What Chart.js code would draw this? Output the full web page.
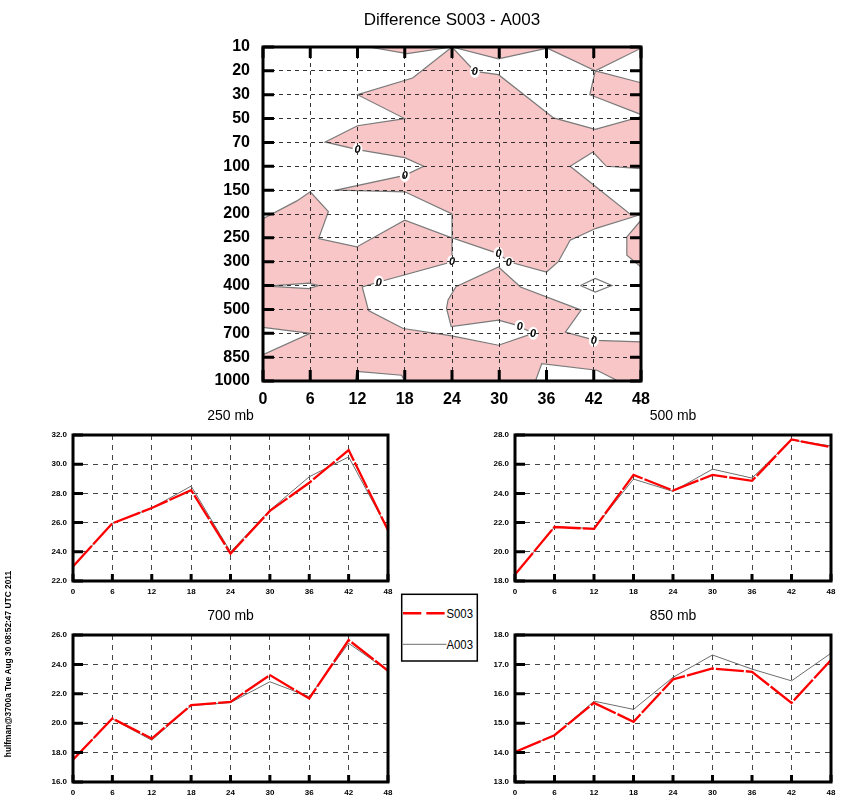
<!DOCTYPE html>
<html>
<head>
<meta charset="utf-8">
<title>Difference S003 - A003</title>
<script src="https://cdn.jsdelivr.net/npm/chart.js@4.4.1/dist/chart.umd.min.js"></script>
<style>
  html, body { margin: 0; padding: 0; background: #fff; }
  body { position: relative; width: 843px; height: 810px; overflow: hidden; font-family: 'Liberation Sans', Arial, sans-serif; }
  canvas { position: absolute; }
  #legend { position: absolute; left: 400px; top: 593px; }
  #stamp {
    position: absolute; left: 8px; top: 664px;
    transform: translate(-50%, -50%) rotate(-90deg);
    white-space: nowrap; font-size: 8.4px; font-weight: bold; color: #000;
  }
</style>
</head>
<body>
<canvas id="diff"></canvas>
<canvas id="mb250"></canvas>
<canvas id="mb500"></canvas>
<canvas id="mb700"></canvas>
<canvas id="mb850"></canvas>
<svg id="legend" width="80" height="70">
  <rect x="1.7" y="1.3" width="75.6" height="66.7" fill="#fff" stroke="#000" stroke-width="1.5"/>
  <line x1="3" y1="20.3" x2="46.5" y2="20.3" stroke="#ff0000" stroke-width="2.6" stroke-dasharray="18.3 5"/>
  <text x="46.5" y="24.5" font-family="Liberation Sans, Arial, sans-serif" font-size="12.5" textLength="26.5" lengthAdjust="spacingAndGlyphs">S003</text>
  <line x1="3" y1="51.3" x2="46.5" y2="51.3" stroke="#6e6e6e" stroke-width="1"/>
  <text x="46.5" y="55.5" font-family="Liberation Sans, Arial, sans-serif" font-size="12.5" textLength="26.5" lengthAdjust="spacingAndGlyphs">A003</text>
</svg>
<div id="stamp">hulfman@3700a Tue Aug 30 08:52:47 UTC 2011</div>
<script>
const hours = [0, 6, 12, 18, 24, 30, 36, 42, 48];
const levels = ['10', '20', '30', '50', '70', '100', '150', '200', '250', '300', '400', '500', '700', '850', '1000'];

// time series per level
const s003At250 = [23.0, 25.95, 27.0, 28.22, 23.88, 26.8, 28.73, 30.97, 25.48];
const a003At250 = [23.0, 25.95, 27.0, 28.5, 24.0, 26.85, 29.14, 30.5, 25.5];
const s003At500 = [18.45, 21.7, 21.57, 25.27, 24.2, 25.27, 24.86, 27.7, 27.16];
const a003At500 = [18.45, 21.7, 21.6, 24.98, 24.14, 25.66, 25.05, 27.66, 27.25];
const s003At700 = [17.52, 20.32, 18.95, 21.23, 21.45, 23.27, 21.68, 25.66, 23.57];
const a003At700 = [17.55, 20.3, 18.84, 21.2, 21.4, 22.82, 21.8, 25.43, 23.57];
const s003At850 = [14.02, 14.59, 15.69, 15.05, 16.49, 16.86, 16.75, 15.69, 17.15];
const a003At850 = [14.02, 14.59, 15.75, 15.47, 16.56, 17.32, 16.84, 16.44, 17.38];

// negative areas of S003 - A003, vertices as [hour, level index]
const regionTopWest = [[13.4, 0], [18.3, 0.28], [24, 0]];
const regionTopEast = [[24, 0], [29.9, 0.5], [36.1, 0.05], [42.2, 1.0], [48, 0.05], [48, 0]];
const regionEast = [[42.2, 1.0], [48, 1.5], [48, 2.83], [41.5, 2.0]];
const regionUpper = [
  [24, 0], [26.9, 1.02], [29.9, 1.16], [36.9, 2.97], [42.2, 3.45], [48, 2.92], [48, 5.1],
  [43.6, 5.0], [41.9, 4.4], [39, 5.0], [46.6, 7.0], [48, 7.02], [42.3, 7.6], [39, 8.1],
  [37.5, 9.0], [36, 9.43], [31.2, 9.0], [29.9, 8.66], [24, 8.0], [24, 7.0], [18, 6.07],
  [9.3, 6.0], [18, 5.38], [20.4, 5.0], [18, 4.64], [12, 4.3], [7.9, 3.98], [12, 3.3],
  [18, 3.0], [12, 2.0], [19, 1.3],
];
const regionEdge = [[48, 7.26], [46.2, 7.96], [46.2, 8.73], [48, 9.22]];
const regionLower = [
  [0, 7.2], [4.3, 6.45], [6, 6.07], [8.3, 6.9], [7.06, 8.03], [11.9, 8.38], [18, 7.26],
  [24, 8.0], [24, 9.0], [14.7, 9.85], [12.6, 10.06], [13.4, 11.05], [17.8, 11.8],
  [23.8, 12.1], [29.9, 12.5], [34.3, 12.0], [32.2, 11.66], [29.9, 11.45], [23.9, 11.72],
  [23.3, 10.95], [23.5, 10.6], [24.5, 10.05], [29.9, 9.22], [32.7, 10.06], [40.4, 11.03],
  [38.4, 11.95], [42.2, 12.3], [48, 12.36], [48, 14], [45.1, 14], [42.4, 13.55],
  [35.4, 13.27], [34.6, 14], [18, 14], [17.6, 13.76], [11.9, 13.6], [11.7, 14], [0, 14],
  [0, 12.9], [6, 12.0], [0, 11.75],
];
const holeWest = [[0.6, 10.02], [5.8, 9.9], [7.06, 10.0], [5.8, 10.13]];
const holeDiamond = [[40.3, 10.0], [42.2, 9.7], [44.3, 10.0], [42.2, 10.27]];
const zeroLabels = [
  [26.9, 1.02], [12, 4.3], [18, 5.38], [24, 9.0], [14.7, 9.85], [29.9, 8.66],
  [31.2, 9.05], [32.6, 11.7], [34.3, 12.0], [42.0, 12.3],
];

const family = "'Liberation Sans', Arial, Helvetica, sans-serif";
Chart.defaults.font.family = family;
Chart.defaults.color = '#000';

const titlePlugin = {
  id: 'panelTitle',
  afterDraw(chart, args, opts) {
    const { ctx, chartArea: a } = chart;
    ctx.save();
    ctx.font = opts.font;
    ctx.fillStyle = '#000';
    ctx.textAlign = 'center';
    ctx.textBaseline = 'middle';
    ctx.fillText(opts.text, (a.left + a.right) / 2, a.top - opts.offset);
    ctx.restore();
  },
};

// thick box round the plot with inward tick marks
const framePlugin = {
  id: 'frame',
  afterDraw(chart, args, opts) {
    const { ctx, chartArea: a, scales: { x, y } } = chart;
    ctx.save();
    ctx.strokeStyle = '#000';
    ctx.lineWidth = opts.tickWidth;
    ctx.beginPath();
    x.ticks.forEach((t) => {
      const px = x.getPixelForValue(t.value);
      if (opts.bottom) { ctx.moveTo(px, a.bottom); ctx.lineTo(px, a.bottom - opts.bottom); }
      if (opts.top) { ctx.moveTo(px, a.top); ctx.lineTo(px, a.top + opts.top); }
    });
    y.ticks.forEach((t) => {
      const py = y.getPixelForValue(t.value);
      if (opts.left) { ctx.moveTo(a.left, py); ctx.lineTo(a.left + opts.left, py); }
      if (opts.right) { ctx.moveTo(a.right, py); ctx.lineTo(a.right - opts.right, py); }
    });
    ctx.stroke();
    ctx.lineWidth = opts.width;
    ctx.strokeRect(a.left, a.top, a.right - a.left, a.bottom - a.top);
    ctx.restore();
  },
};

// "0" contour labels
const zeroPlugin = {
  id: 'zeros',
  afterDatasetsDraw(chart) {
    const { ctx, scales: { x, y } } = chart;
    ctx.save();
    ctx.font = 'italic bold 11px ' + family;
    ctx.textAlign = 'center';
    ctx.textBaseline = 'middle';
    zeroLabels.forEach(([h, lev]) => {
      const px = x.getPixelForValue(h);
      const py = y.getPixelForValue(lev);
      ctx.fillStyle = '#fff';
      ctx.beginPath();
      ctx.ellipse(px, py, 5, 6.5, 0, 0, Math.PI * 2);
      ctx.fill();
      ctx.fillStyle = '#000';
      ctx.fillText('0', px, py + 0.5);
    });
    ctx.restore();
  },
};

function place(canvas, box, area) {
  canvas.width = box.w;
  canvas.height = box.h;
  canvas.style.left = box.x + 'px';
  canvas.style.top = box.y + 'px';
  return {
    padding: { top: area.top - box.y, right: box.x + box.w - area.right, left: 0, bottom: 0 },
    yWidth: area.left - box.x,
    xHeight: box.y + box.h - area.bottom,
  };
}

function regionDataset(points, color, order) {
  return {
    data: points.concat([points[0]]).map(([x, y]) => ({ x, y })),
    showLine: true,
    fill: 'shape',
    backgroundColor: color,
    borderColor: '#7a7a7a',
    borderWidth: 1.2,
    pointRadius: 0,
    pointHoverRadius: 0,
    tension: 0,
    order: order,
  };
}

function initDiff() {
  const canvas = document.getElementById('diff');
  const fit = place(canvas, { x: 190, y: 0, w: 480, h: 412 }, { left: 263, top: 47, right: 641, bottom: 381 });
  const pink = 'rgb(248, 198, 198)';
  const tickFont = { size: 16, weight: 'bold' };
  new Chart(canvas, {
    type: 'scatter',
    data: {
      datasets: [
        regionDataset(holeWest, '#ffffff', 1),
        regionDataset(holeDiamond, '#ffffff', 1),
        regionDataset(regionTopWest, pink, 2),
        regionDataset(regionTopEast, pink, 2),
        regionDataset(regionEast, pink, 2),
        regionDataset(regionUpper, pink, 2),
        regionDataset(regionEdge, pink, 2),
        regionDataset(regionLower, pink, 2),
      ],
    },
    options: {
      responsive: false,
      animation: false,
      events: [],
      layout: { padding: fit.padding },
      plugins: {
        legend: { display: false },
        tooltip: { enabled: false },
        panelTitle: { text: 'Difference S003 - A003', font: '17px ' + family, offset: 27 },
        frame: { width: 3, tickWidth: 3, left: 11, right: 11, top: 11, bottom: 11 },
      },
      scales: {
        x: {
          type: 'linear', min: 0, max: 48,
          afterFit: (s) => { s.height = fit.xHeight; s.paddingLeft = 0; s.paddingRight = 0; },
          ticks: { stepSize: 6, autoSkip: false, maxRotation: 0, padding: 9, font: tickFont },
          grid: { drawTicks: false, color: '#333', lineWidth: 1, z: 1 },
          border: { display: false, dash: [4, 4] },
        },
        y: {
          type: 'linear', min: 0, max: 14, reverse: true,
          afterFit: (s) => { s.width = fit.yWidth; s.paddingTop = 0; s.paddingBottom = 0; },
          ticks: { stepSize: 1, autoSkip: false, padding: 13, font: tickFont, callback: (v) => levels[v] },
          grid: { drawTicks: false, color: '#333', lineWidth: 1, z: 1 },
          border: { display: false, dash: [4, 4] },
        },
      },
    },
    plugins: [zeroPlugin, titlePlugin, framePlugin],
  });
}

function initPanel(id, title, sValues, aValues, yMin, yMax, yStep, box, area) {
  const canvas = document.getElementById(id);
  const fit = place(canvas, box, area);
  const tickFont = { size: 8, weight: 'bold' };
  new Chart(canvas, {
    type: 'line',
    data: {
      datasets: [
        {
          label: 'S003',
          data: hours.map((h, i) => ({ x: h, y: sValues[i] })),
          borderColor: '#ff0000',
          borderWidth: 2.3,
          borderDash: [28, 2],
          pointRadius: 0,
          tension: 0,
          order: 0,
        },
        {
          label: 'A003',
          data: hours.map((h, i) => ({ x: h, y: aValues[i] })),
          borderColor: '#6e6e6e',
          borderWidth: 1,
          pointRadius: 0,
          tension: 0,
          order: 1,
        },
      ],
    },
    options: {
      responsive: false,
      animation: false,
      events: [],
      layout: { padding: fit.padding },
      plugins: {
        legend: { display: false },
        tooltip: { enabled: false },
        panelTitle: { text: title, font: '14px ' + family, offset: 19 },
        frame: { width: 3, tickWidth: 3, left: 10, bottom: 7, top: 0, right: 0 },
      },
      scales: {
        x: {
          type: 'linear', min: 0, max: 48,
          afterFit: (s) => { s.height = fit.xHeight; s.paddingLeft = 0; s.paddingRight = 0; },
          ticks: { stepSize: 6, autoSkip: false, maxRotation: 0, padding: 6, font: tickFont },
          grid: { drawTicks: false, color: '#444', lineWidth: 1 },
          border: { display: false, dash: [5, 5] },
        },
        y: {
          type: 'linear', min: yMin, max: yMax,
          afterFit: (s) => { s.width = fit.yWidth; s.paddingTop = 0; s.paddingBottom = 0; },
          ticks: { stepSize: yStep, padding: 6, font: tickFont, callback: (v) => v.toFixed(1) },
          grid: { drawTicks: false, color: '#444', lineWidth: 1 },
          border: { display: false, dash: [5, 5] },
        },
      },
    },
    plugins: [titlePlugin, framePlugin],
  });
}

initDiff();
initPanel('mb250', '250 mb', s003At250, a003At250, 22, 32, 2,
  { x: 20, y: 400, w: 380, h: 200 }, { left: 73, top: 435, right: 388, bottom: 581 });
initPanel('mb500', '500 mb', s003At500, a003At500, 18, 28, 2,
  { x: 455, y: 400, w: 388, h: 200 }, { left: 515, top: 435, right: 831, bottom: 581 });
initPanel('mb700', '700 mb', s003At700, a003At700, 16, 26, 2,
  { x: 20, y: 600, w: 380, h: 210 }, { left: 73, top: 635, right: 388, bottom: 782 });
initPanel('mb850', '850 mb', s003At850, a003At850, 13, 18, 1,
  { x: 455, y: 600, w: 388, h: 210 }, { left: 515, top: 635, right: 831, bottom: 782 });
</script>
</body>
</html>
